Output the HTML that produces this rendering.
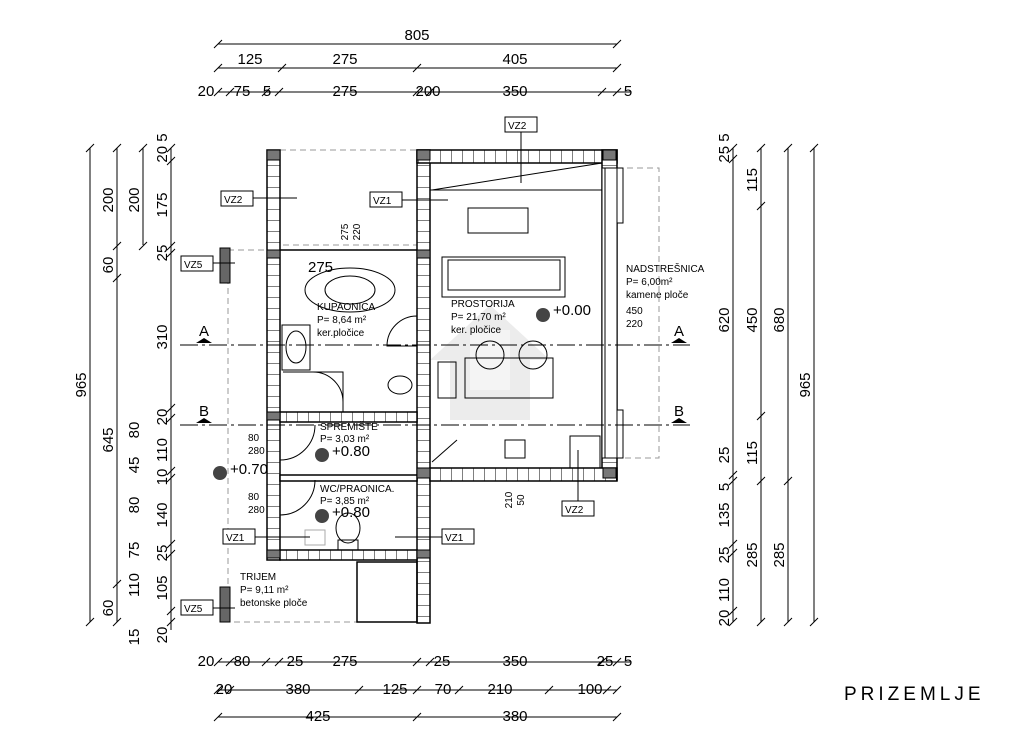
<!DOCTYPE html>
<html><head><meta charset="utf-8"><style>
body{margin:0;background:#fff}
svg{display:block;font-family:"Liberation Sans",sans-serif}
.d{stroke:#000;stroke-width:1;fill:none}
.t{font-size:15px;fill:#000}
.s{font-size:10px;fill:#000}
.w{fill:#fff;stroke:#000;stroke-width:1.5}
.h{fill:#666;stroke:#000}
.ds{stroke:#999;stroke-dasharray:6 4;fill:none}
</style></head><body>
<svg width="1024" height="745" viewBox="0 0 1024 745">
<defs>
<pattern id="pv" width="11" height="11" patternUnits="userSpaceOnUse"><rect width="11" height="11" fill="#fff"/><line x1="0" y1="0" x2="0" y2="11" stroke="#000" stroke-width="1"/></pattern>
<pattern id="ph" width="11" height="11" patternUnits="userSpaceOnUse"><rect width="11" height="11" fill="#fff"/><line x1="0" y1="0" x2="11" y2="0" stroke="#000" stroke-width="1"/></pattern>
</defs>
<!-- watermark -->
<g fill="#e8e8e8" opacity="0.8"><path d="M430 360l60-55 60 55h-20v60h-80v-60z"/><rect x="470" y="330" width="40" height="60" fill="#f2f2f2"/></g>
<!-- dims -->
<g class="d">
<line x1="218" y1="44" x2="617" y2="44"/><line x1="218" y1="68" x2="617" y2="68"/><line x1="218" y1="92" x2="630" y2="92"/>
<line x1="218" y1="662" x2="630" y2="662"/><line x1="218" y1="690" x2="617" y2="690"/><line x1="218" y1="717" x2="617" y2="717"/>
<line x1="90" y1="148" x2="90" y2="622"/><line x1="117" y1="148" x2="117" y2="622"/><line x1="143" y1="148" x2="143" y2="245"/><line x1="171" y1="148" x2="171" y2="630"/>
<line x1="733" y1="148" x2="733" y2="622"/><line x1="761" y1="148" x2="761" y2="622"/><line x1="788" y1="148" x2="788" y2="622"/><line x1="814" y1="148" x2="814" y2="622"/>
<path d="M214 48l8-8M613 48l8-8M214 72l8-8M278 72l8-8M413 72l8-8M613 72l8-8
M214 96l8-8M226 96l8-8M262 96l8-8M275 96l8-8M413 96l8-8M426 96l8-8M598 96l8-8M613 96l8-8
M214 666l8-8M226 666l8-8M262 666l8-8M275 666l8-8M413 666l8-8M426 666l8-8M598 666l8-8M613 666l8-8
M214 694l8-8M226 694l8-8M355 694l8-8M413 694l8-8M455 694l8-8M545 694l8-8M603 694l8-8M613 694l8-8
M214 721l8-8M413 721l8-8M613 721l8-8"/>
<path d="M86 152l8-8M86 626l8-8M113 152l8-8M113 250l8-8M113 282l8-8M113 588l8-8M113 626l8-8M139 152l8-8M139 250l8-8
M167 152l8-8M167 165l8-8M167 250l8-8M167 257l8-8M167 412l8-8M167 422l8-8M167 475l8-8M167 482l8-8M167 548l8-8M167 558l8-8M167 626l8-8M167 615l8-8
M729 152l8-8M729 163l8-8M729 479l8-8M729 485l8-8M729 548l8-8M729 557l8-8M729 615l8-8M729 626l8-8
M757 152l8-8M757 210l8-8M757 420l8-8M757 485l8-8M757 626l8-8M784 152l8-8M784 485l8-8M784 626l8-8M810 152l8-8M810 626l8-8"/>
</g>
<g class="t" text-anchor="middle">
<text x="417" y="40">805</text>
<text x="250" y="64">125</text><text x="345" y="64">275</text><text x="515" y="64">405</text>
<text x="206" y="96">20</text><text x="242" y="96">75</text><text x="267" y="96">5</text><text x="345" y="96">275</text><text x="428" y="96">200</text><text x="515" y="96">350</text><text x="628" y="96">5</text>
<text x="206" y="666">20</text><text x="242" y="666">80</text><text x="295" y="666">25</text><text x="345" y="666">275</text><text x="442" y="666">25</text><text x="515" y="666">350</text><text x="605" y="666">25</text><text x="628" y="666">5</text>
<text x="224" y="694">20</text><text x="298" y="694">380</text><text x="395" y="694">125</text><text x="443" y="694">70</text><text x="500" y="694">210</text><text x="590" y="694">100</text>
<text x="318" y="721">425</text><text x="515" y="721">380</text>
</g>
<g class="t" text-anchor="middle">
<text transform="translate(86,385) rotate(-90)">965</text>
<text transform="translate(113,200) rotate(-90)">200</text><text transform="translate(113,265) rotate(-90)">60</text><text transform="translate(113,440) rotate(-90)">645</text><text transform="translate(113,608) rotate(-90)">60</text>
<text transform="translate(139,200) rotate(-90)">200</text><text transform="translate(139,430) rotate(-90)">80</text><text transform="translate(139,465) rotate(-90)">45</text><text transform="translate(139,505) rotate(-90)">80</text><text transform="translate(139,550) rotate(-90)">75</text><text transform="translate(139,585) rotate(-90)">110</text><text transform="translate(139,637) rotate(-90)">15</text>
<text transform="translate(167,148) rotate(-90)">20 5</text><text transform="translate(167,205) rotate(-90)">175</text><text transform="translate(167,253) rotate(-90)">25</text><text transform="translate(167,337) rotate(-90)">310</text><text transform="translate(167,417) rotate(-90)">20</text><text transform="translate(167,450) rotate(-90)">110</text><text transform="translate(167,477) rotate(-90)">10</text><text transform="translate(167,515) rotate(-90)">140</text><text transform="translate(167,553) rotate(-90)">25</text><text transform="translate(167,588) rotate(-90)">105</text><text transform="translate(167,635) rotate(-90)">20</text>
<text transform="translate(729,148) rotate(-90)">25 5</text><text transform="translate(729,320) rotate(-90)">620</text><text transform="translate(729,455) rotate(-90)">25</text><text transform="translate(729,487) rotate(-90)">5</text><text transform="translate(729,515) rotate(-90)">135</text><text transform="translate(729,555) rotate(-90)">25</text><text transform="translate(729,590) rotate(-90)">110</text><text transform="translate(729,618) rotate(-90)">20</text>
<text transform="translate(757,180) rotate(-90)">115</text><text transform="translate(757,320) rotate(-90)">450</text><text transform="translate(757,453) rotate(-90)">115</text><text transform="translate(757,555) rotate(-90)">285</text>
<text transform="translate(784,320) rotate(-90)">680</text><text transform="translate(784,555) rotate(-90)">285</text>
<text transform="translate(810,385) rotate(-90)">965</text>
</g>
<rect class="ds" x="228" y="250" width="190" height="372"/>
<rect class="ds" x="280" y="150" width="137" height="95"/>
<rect class="ds" x="617" y="168" width="42" height="290"/>
<!-- walls -->
<g stroke="#000" stroke-width="1.5">
<rect x="267" y="150" width="13" height="410" fill="url(#ph)"/>
<rect x="417" y="150" width="13" height="473" fill="url(#ph)"/>
<rect x="417" y="150" width="200" height="13" fill="url(#pv)"/>
<rect x="602" y="150" width="15" height="330" fill="url(#ph)"/>
<rect x="430" y="468" width="187" height="13" fill="url(#pv)"/>
<rect x="280" y="412" width="137" height="10" fill="url(#pv)"/>
<rect x="280" y="475" width="137" height="6" fill="#fff"/>
<rect x="280" y="550" width="137" height="10" fill="url(#pv)"/>
<line x1="280" y1="250" x2="417" y2="250"/>
<rect x="357" y="562" width="60" height="60" fill="none"/>
</g>
<rect x="602" y="168" width="15" height="290" fill="#fff" stroke="#000"/>
<line x1="605" y1="168" x2="605" y2="458" stroke="#000"/>
<rect x="617" y="168" width="6" height="55" fill="url(#pv)" stroke="#000"/><rect x="617" y="410" width="6" height="48" fill="url(#pv)" stroke="#000"/>
<rect class="h" x="220" y="248" width="10" height="35"/><rect class="h" x="220" y="587" width="10" height="35"/>
<g stroke="#000" fill="#777"><rect x="267" y="150" width="13" height="10"/><rect x="267" y="250" width="13" height="8"/><rect x="417" y="150" width="13" height="10"/><rect x="603" y="150" width="13" height="10"/><rect x="417" y="250" width="13" height="8"/><rect x="417" y="468" width="13" height="10"/><rect x="603" y="468" width="13" height="10"/><rect x="267" y="412" width="13" height="8"/><rect x="267" y="550" width="13" height="8"/><rect x="417" y="550" width="13" height="8"/></g>
<line x1="432" y1="190" x2="602" y2="163" stroke="#000"/><line x1="430" y1="190" x2="602" y2="190" stroke="#000"/>
<g fill="none" stroke="#000">
<rect x="468" y="208" width="60" height="25"/>
<rect x="442" y="257" width="123" height="40"/><rect x="448" y="260" width="112" height="30"/>
<ellipse cx="350" cy="290" rx="45" ry="22"/><ellipse cx="350" cy="290" rx="25" ry="14"/>
<ellipse cx="296" cy="347" rx="10" ry="16"/><rect x="282" y="325" width="28" height="45"/>
<circle cx="490" cy="355" r="14"/><circle cx="533" cy="355" r="14"/>
<rect x="465" y="358" width="88" height="40"/><rect x="438" y="362" width="18" height="36"/>
<ellipse cx="400" cy="385" rx="12" ry="9"/>
<path d="M283 372h60v40M313 372a30 30 0 0 1 30 30"/>
<path d="M387 346a30 30 0 0 1 30-30v30z"/>
<path d="M280 460a35 35 0 0 0 35-35M280 515a35 35 0 0 0 35-35"/>
<ellipse cx="348" cy="528" rx="12" ry="15"/><rect x="338" y="540" width="20" height="10"/>
<rect x="305" y="530" width="20" height="15" stroke="#aaa"/>
<rect x="505" y="440" width="20" height="18"/>
<path d="M432 462l25-22"/><rect x="570" y="436" width="30" height="32"/>
</g>
<g stroke="#000" stroke-dasharray="18 4 3 4"><line x1="180" y1="345" x2="690" y2="345"/><line x1="180" y1="425" x2="690" y2="425"/></g>
<g class="t" text-anchor="middle"><text x="204" y="336">A</text><text x="679" y="336">A</text><text x="204" y="416">B</text><text x="679" y="416">B</text></g>
<g fill="#000"><path d="M196 343l8-5 8 5z"/><path d="M671 343l8-5 8 5z"/><path d="M196 423l8-5 8 5z"/><path d="M671 423l8-5 8 5z"/></g>
<g class="s">
<text x="317" y="310">KUPAONICA</text><text x="317" y="323">P= 8,64 m²</text><text x="317" y="336">ker.pločice</text>
<text x="451" y="307">PROSTORIJA</text><text x="451" y="320">P= 21,70 m²</text><text x="451" y="333">ker. pločice</text>
<text x="626" y="272">NADSTREŠNICA</text><text x="626" y="285">P= 6,00m²</text><text x="626" y="298">kamene ploče</text><text x="626" y="314">450</text><text x="626" y="327">220</text>
<text x="320" y="430">SPREMIŠTE</text><text x="320" y="442">P= 3,03 m²</text>
<text x="320" y="492">WC/PRAONICA.</text><text x="320" y="504">P= 3,85 m²</text>
<text x="240" y="580">TRIJEM</text><text x="240" y="593">P= 9,11 m²</text><text x="240" y="606">betonske ploče</text>
<text x="248" y="441">80</text><text x="248" y="454">280</text><text x="248" y="500">80</text><text x="248" y="513">280</text>
</g>
<g class="t"><text x="308" y="272">275</text><text x="553" y="315">+0.00</text><text x="332" y="456">+0.80</text><text x="332" y="517">+0.80</text><text x="230" y="474">+0.70</text></g>
<g fill="#444"><circle cx="322" cy="455" r="7"/><circle cx="322" cy="516" r="7"/><circle cx="543" cy="315" r="7"/><circle cx="220" cy="473" r="7"/></g>
<g class="s" font-size="12">
<g fill="#fff" stroke="#000"><rect x="221" y="191" width="32" height="15"/><rect x="370" y="192" width="32" height="15"/><rect x="505" y="117" width="32" height="15"/><rect x="181" y="256" width="32" height="15"/><rect x="181" y="600" width="32" height="15"/><rect x="223" y="529" width="32" height="15"/><rect x="442" y="529" width="32" height="15"/><rect x="562" y="501" width="32" height="15"/></g>
<text x="224" y="203">VZ2</text><text x="373" y="204">VZ1</text><text x="508" y="129">VZ2</text><text x="184" y="268">VZ5</text><text x="184" y="612">VZ5</text><text x="226" y="541">VZ1</text><text x="445" y="541">VZ1</text><text x="565" y="513">VZ2</text>
</g>
<g stroke="#000"><line x1="253" y1="198" x2="297" y2="198"/><line x1="402" y1="200" x2="448" y2="200"/><line x1="521" y1="132" x2="521" y2="183"/><line x1="213" y1="263" x2="235" y2="263"/><line x1="213" y1="608" x2="235" y2="608"/><line x1="255" y1="537" x2="310" y2="537"/><line x1="395" y1="537" x2="442" y2="537"/><line x1="578" y1="501" x2="578" y2="450"/></g>
<g class="s" text-anchor="middle"><text transform="translate(348,232) rotate(-90)">275</text><text transform="translate(360,232) rotate(-90)">220</text><text transform="translate(512,500) rotate(-90)">210</text><text transform="translate(524,500) rotate(-90)">50</text></g>
<text x="844" y="700" font-size="19" letter-spacing="4">PRIZEMLJE</text>
</svg>
</body></html>
